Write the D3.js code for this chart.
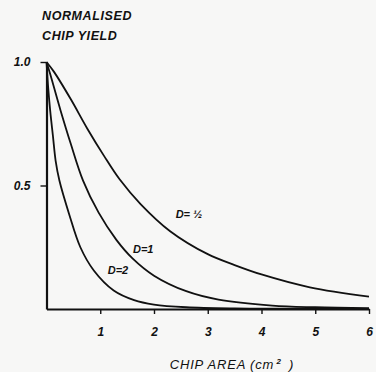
<!DOCTYPE html>
<html>
<head>
<meta charset="utf-8">
<script src="https://cdn.jsdelivr.net/npm/d3@7"></script>
<style>
  html, body { margin: 0; padding: 0; background: #f7f7f6; }
  svg { display: block; }
  text { font-family: "Liberation Sans", Arial, sans-serif; fill: #111; }
</style>
</head>
<body>
<svg id="chart" width="376" height="372"></svg>
<script>
// chip area (cm²) vs normalised yield
const curveD2 = [
  [0, 1], [0.03, 0.9], [0.07, 0.8], [0.12, 0.7], [0.17, 0.6], [0.24, 0.52],
  [0.42, 0.385], [0.63, 0.25], [0.88, 0.156], [1.25, 0.075], [1.63, 0.036],
  [2.0, 0.018], [2.6, 0.007], [3.5, 0.002], [4.5, 0.001], [6.0, 0]
]
const curveD1 = [
  [0, 1], [0.07, 0.95], [0.26, 0.805], [0.45, 0.67], [0.68, 0.52], [0.97, 0.39],
  [1.3, 0.28], [1.6, 0.205], [2.0, 0.135], [2.6, 0.072], [3.2, 0.038],
  [4.2, 0.014], [5.0, 0.007], [6.0, 0.003]
]
const curveDHalf = [
  [0, 1], [0.14, 0.96], [0.45, 0.85], [0.76, 0.73], [1.07, 0.62], [1.36, 0.525],
  [1.75, 0.425], [2.3, 0.315], [3.0, 0.222], [3.5, 0.178],
  [4.0, 0.14], [4.9, 0.088], [6.0, 0.05]
]
const curveLabels = ["D= \u00bd", "D=1", "D=2"]
const labelAt = [[2.65, 0.37], [1.8, 0.225], [1.33, 0.14]]
const xTicks = [1, 2, 3, 4, 5, 6]
const yTicks = [0.5, 1.0]

const svg = d3.select("#chart")
const margin = { top: 62, right: 7, bottom: 63, left: 46.5 }
const width = 376, height = 372

const x = d3.scaleLinear().domain([0, 6]).range([margin.left, width - margin.right])
const y = d3.scaleLinear().domain([0, 1]).range([height - margin.bottom, margin.top])

// axes
const xAxis = svg.append("g")
  .attr("transform", `translate(0, ${y(0)})`)
  .call(d3.axisBottom(x).tickValues(xTicks).tickFormat(d3.format("d"))
    .tickSize(5).tickSizeOuter(0).tickPadding(13))
const yAxis = svg.append("g")
  .attr("transform", `translate(${x(0)}, 0)`)
  .call(d3.axisLeft(y).tickValues(yTicks).tickFormat(d3.format(".1f"))
    .tickSize(6).tickSizeOuter(0).tickPadding(10))

for (const g of [xAxis, yAxis]) {
  g.select(".domain").attr("stroke", "#111").attr("stroke-width", 2.2)
  g.selectAll(".tick line").attr("stroke", "#111").attr("stroke-width", 1.4)
  g.selectAll(".tick text")
    .attr("fill", "#111")
    .style("font-family", "Liberation Sans, Arial, sans-serif")
    .style("font-size", "12px")
    .style("font-style", "italic")
    .style("font-weight", "bold")
}

// curves
const line = d3.line()
  .x((d) => x(d[0]))
  .y((d) => y(d[1]))
  .curve(d3.curveCatmullRom.alpha(0.5))

for (const data of [curveD2, curveD1, curveDHalf]) {
  svg.append("path")
    .datum(data)
    .attr("fill", "none")
    .attr("stroke", "#111")
    .attr("stroke-width", 1.8)
    .attr("d", line)
}

svg.append("g")
  .selectAll("text")
  .data(curveLabels)
  .join("text")
  .attr("x", (d, i) => x(labelAt[i][0]))
  .attr("y", (d, i) => y(labelAt[i][1]))
  .attr("text-anchor", "middle")
  .style("font-size", "11px")
  .style("font-style", "italic")
  .style("font-weight", "bold")
  .text((d) => d)

// titles
const yTitle = svg.append("text")
  .style("font-size", "12.5px")
  .style("font-style", "italic")
  .style("font-weight", "bold")
  .style("letter-spacing", "0.6px")
yTitle.append("tspan").attr("x", 42).attr("y", 20).text("NORMALISED")
yTitle.append("tspan").attr("x", 42).attr("y", 40).text("CHIP YIELD")

const xTitle = svg.append("text")
  .attr("x", 232)
  .attr("y", 369)
  .attr("text-anchor", "middle")
  .style("font-size", "13px")
  .style("font-style", "italic")
  .style("letter-spacing", "0.8px")
xTitle.append("tspan").text("CHIP AREA (cm")
xTitle.append("tspan").attr("dy", -5).style("font-size", "8px").style("font-weight", "bold").text("\u20092")
xTitle.append("tspan").attr("dy", 5).text("\u2002)")
</script>
</body>
</html>
